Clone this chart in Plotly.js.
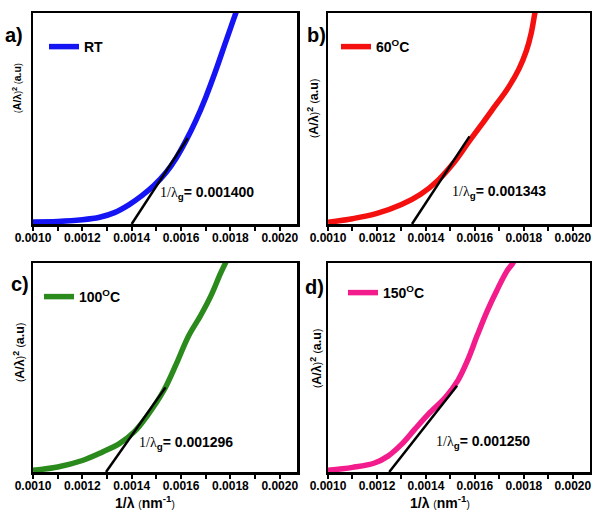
<!DOCTYPE html>
<html>
<head>
<meta charset="utf-8">
<script src="https://cdn.plot.ly/plotly-3.0.1.min.js"></script>
<style>html,body{margin:0;padding:0;background:#fff;}#chart{width:592px;height:510px;}</style>
</head>
<body>
<div id="chart"></div>
<script>
// ---- data (x: 1/λ in nm^-1, y: (A/λ)^2 in a.u., scaled 0..1) ----
const rtX   = [0.0010, 0.00110, 0.00120, 0.00127, 0.00133, 0.00139, 0.00144, 0.00149, 0.00154, 0.00158, 0.00162, 0.00166, 0.00170, 0.00174, 0.00178, 0.00181, 0.00184];
const rtY   = [0.010, 0.012, 0.020, 0.032, 0.054, 0.092, 0.133, 0.182, 0.245, 0.312, 0.395, 0.490, 0.600, 0.725, 0.860, 0.960, 1.060];
const c60X  = [0.0010, 0.00110, 0.00120, 0.00130, 0.00138, 0.00145, 0.00152, 0.001571, 0.00162, 0.00167, 0.001735, 0.00178, 0.00181, 0.00183, 0.001845, 0.00186];
const c60Y  = [0.008, 0.025, 0.050, 0.092, 0.142, 0.208, 0.300, 0.383, 0.460, 0.540, 0.644, 0.735, 0.820, 0.905, 1.000, 1.080];
const c100X = [0.0010, 0.00110, 0.00120, 0.00128, 0.00135, 0.00141, 0.00146, 0.00153, 0.00158, 0.00163, 0.00168, 0.00172, 0.00176, 0.00178, 0.00180];
const c100Y = [0.008, 0.024, 0.055, 0.095, 0.136, 0.192, 0.264, 0.390, 0.515, 0.650, 0.750, 0.840, 0.950, 1.000, 1.050];
const c150X = [0.0010, 0.00110, 0.00119, 0.001245, 0.00130, 0.001354, 0.00141, 0.00148, 0.00153, 0.00157, 0.00161, 0.00165, 0.00169, 0.00173, 0.001755, 0.00178];
const c150Y = [0.008, 0.022, 0.043, 0.076, 0.132, 0.204, 0.277, 0.357, 0.437, 0.534, 0.655, 0.770, 0.870, 0.960, 1.000, 1.060];
// tangent fit lines
const rtFitX   = [0.001400, 0.001627]; const rtFitY   = [0, 0.407];
const c60FitX  = [0.001343, 0.001578]; const c60FitY  = [0, 0.415];
const c100FitX = [0.001296, 0.001537]; const c100FitY = [0, 0.405];
const c150FitX = [0.001250, 0.001527]; const c150FitY = [0, 0.413];
const seriesNames = ['RT', '60<sup>O</sup>C', '100<sup>O</sup>C', '150<sup>O</sup>C'];
const gapValues = ['0.001400', '0.001343', '0.001296', '0.001250'];
const panelLabels = ['a)', 'b)', 'c)', 'd)'];
const tickVals = [0.0010, 0.0012, 0.0014, 0.0016, 0.0018, 0.0020];
const tickText = ['0.0010', '0.0012', '0.0014', '0.0016', '0.0018', '0.0020'];

// ---- layout helpers (pixel -> paper) ----
const W = 592, H = 510, ML = 33, MR = 2, MT = 13, MB = 38;
const PW = W - ML - MR, PH = H - MT - MB;
const px = x => (x - ML) / PW;
const py = y => (H - MB - y) / PH;

const colors = ['#1414f5', '#f51010', '#2b8a1c', '#f21c8c'];
const sans = 'Liberation Sans, Arial, sans-serif';

const curves = [[rtX, rtY], [c60X, c60Y], [c100X, c100Y], [c150X, c150Y]];
const fits = [[rtFitX, rtFitY], [c60FitX, c60FitY], [c100FitX, c100FitY], [c150FitX, c150FitY]];
const axSuffix = ['', '2', '3', '4'];
const legendIds = ['legend', 'legend2', 'legend3', 'legend4'];

const traces = [];
curves.forEach((c, i) => {
  traces.push({
    x: c[0], y: c[1], type: 'scatter', mode: 'lines', name: seriesNames[i],
    line: {color: colors[i], width: 5.5, shape: 'spline', smoothing: 1},
    xaxis: 'x' + axSuffix[i], yaxis: 'y' + axSuffix[i], legend: legendIds[i], showlegend: true,
    hoverinfo: 'skip'
  });
  traces.push({
    x: fits[i][0], y: fits[i][1], type: 'scatter', mode: 'lines',
    line: {color: '#000', width: 2.5},
    xaxis: 'x' + axSuffix[i], yaxis: 'y' + axSuffix[i], showlegend: false, hoverinfo: 'skip'
  });
});

// panel pixel boxes [left, right, top, bottom]
const boxes = [[33, 297, 13, 224], [328, 590, 13, 224], [33, 297, 263, 472], [328, 590, 263, 472]];

const layout = {
  width: W, height: H,
  margin: {l: ML, r: MR, t: MT, b: MB},
  paper_bgcolor: '#fff', plot_bgcolor: '#fff',
  font: {family: sans, color: '#000'},
  showlegend: true,
  annotations: [],
};

boxes.forEach((b, i) => {
  const xa = 'xaxis' + axSuffix[i], ya = 'yaxis' + axSuffix[i];
  layout[xa] = {
    domain: [px(b[0]), px(b[1])], anchor: 'y' + axSuffix[i],
    range: [0.0010, 0.00207], tickvals: tickVals, ticktext: tickText,
    ticks: 'outside', ticklen: 4, tickwidth: 2, tickcolor: '#000',
    minor: {dtick: 0.0001, tick0: 0.0010, ticks: 'outside', ticklen: 4, tickwidth: 2, tickcolor: '#000'},
    tickfont: {family: sans, size: 12, weight: 'bold', color: '#000'},
    ticklabeloverflow: 'allow', ticklabelstandoff: -3,
    showline: true, linewidth: 2.5, linecolor: '#000', mirror: true,
    showgrid: false, zeroline: false, fixedrange: true
  };
  layout[ya] = {
    domain: [py(b[3]), py(b[2])], anchor: 'x' + axSuffix[i],
    range: [0, 1], showticklabels: false, ticks: '',
    showline: true, linewidth: 2.5, linecolor: '#000', mirror: true,
    showgrid: false, zeroline: false, fixedrange: true
  };
});

// legends (one per panel)
const legendPos = [[44, 47], [336, 47], [39, 297], [343, 293]];
legendPos.forEach((p, i) => {
  layout[legendIds[i]] = {
    x: px(p[0]), y: py(p[1]), xanchor: 'left', yanchor: 'middle',
    bgcolor: 'rgba(0,0,0,0)', borderwidth: 0,
    font: {family: sans, size: 14, weight: 'bold', color: '#000'},
    itemclick: false, itemdoubleclick: false
  };
});

// panel letters
const letterPos = [[14, 35], [316, 35], [20, 284], [315, 287]];
letterPos.forEach((p, i) => {
  layout.annotations.push({
    text: '<b>' + panelLabels[i] + '</b>', xref: 'paper', yref: 'paper',
    x: px(p[0]), y: py(p[1]), xanchor: 'center', yanchor: 'middle', showarrow: false,
    font: {family: sans, size: 20, color: '#000'}
  });
});

// y titles
const yTitlePos = [[17, 88, 10.5], [313, 109, 12.5], [19, 353, 12.5], [316, 359, 12.5]];
yTitlePos.forEach(p => {
  const s = p[2] * 0.8;
  layout.annotations.push({
    text: '<span style="font-size:' + s + 'px">(</span><b>A/λ</b><span style="font-size:' + s + 'px">)</span><b><sup>2</sup></b> <span style="font-size:' + s + 'px">(</span><b>a.u</b><span style="font-size:' + s + 'px">)</span>',
    xref: 'paper', yref: 'paper',
    x: px(p[0]), y: py(p[1]), xanchor: 'center', yanchor: 'middle', showarrow: false,
    textangle: -90, font: {family: sans, size: p[2], color: '#000'}
  });
});

// x titles (bottom panels)
const xTitlePos = [[145, 502], [440, 502]];
xTitlePos.forEach(p => {
  layout.annotations.push({
    text: '<b>1/λ</b> <span style="font-size:10px">(</span><b>nm<sup>-1</sup></b><span style="font-size:10px">)</span>',
    xref: 'paper', yref: 'paper',
    x: px(p[0]), y: py(p[1]), xanchor: 'center', yanchor: 'middle', showarrow: false,
    font: {family: sans, size: 14, color: '#000'}
  });
});

// gap annotations
const gapPos = [[158, 193], [450, 192], [137, 443], [434, 442]];
gapPos.forEach((p, i) => {
  layout.annotations.push({
    text: '<span style="font-family:Liberation Serif, Times New Roman, serif;font-weight:normal">1/λ</span><sub><b>g</b></sub><b>= ' + gapValues[i] + '</b>',
    xref: 'paper', yref: 'paper', x: px(p[0]), y: py(p[1]),
    xanchor: 'left', yanchor: 'middle', showarrow: false,
    font: {family: sans, size: 14, color: '#000'}
  });
});

Plotly.newPlot('chart', traces, layout, {staticPlot: true, displayModeBar: false});
</script>
</body>
</html>
